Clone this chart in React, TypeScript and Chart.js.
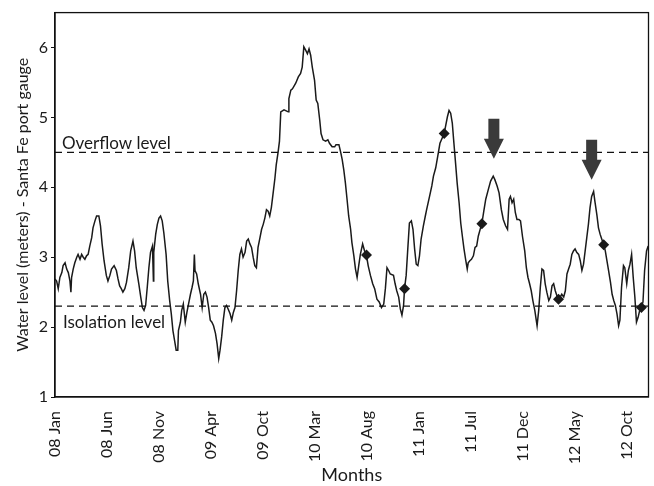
import React, { useEffect, useRef } from "react";
import { Chart, registerables } from "chart.js";
Chart.register(...registerables);

// Day offsets from 1 Jan 2008
const days = [
  0,5,10,15,21,25,31,36,41,46,
  49,51,56,61,67,71,77,82,87,92,
  97,102,107,113,117,123,128,135,140,145,
  151,158,163,169,174,182,189,194,199,204,
  209,215,220,227,233,240,245,250,258,264,
  269,274,279,284,289,294,300,303,304,310,
  315,320,325,330,335,342,347,353,358,363,
  368,373,378,380,386,390,395,401,406,411,
  417,422,426,429,431,436,441,448,453,458,
  463,468,473,478,483,488,494,499,504,508,
  513,518,523,528,533,539,544,549,554,559,
  564,569,574,579,585,590,595,600,605,610,
  615,620,625,631,636,641,646,651,656,661,
  666,671,677,681,687,691,695,705,718,720,
  726,731,741,749,756,761,766,772,777,782,
  787,792,799,804,809,815,819,825,833,840,
  845,853,861,865,874,879,884,889,894,899,
  904,910,914,920,925,930,935,940,947,953,
  959,964,971,978,984,991,998,1005,1012,1017,
  1022,1027,1032,1042,1047,1052,1058,1063,1068,1073,
  1076,1081,1086,1091,1097,1102,1107,1112,1117,1122,
  1127,1134,1140,1144,1153,1160,1165,1172,1178,1185,
  1198,1203,1208,1213,1218,1223,1228,1233,1238,1244,
  1249,1254,1259,1264,1269,1272,1277,1282,1288,1293,
  1298,1303,1310,1314,1320,1326,1334,1341,1349,1354,
  1361,1367,1374,1380,1387,1393,1398,1402,1407,1412,
  1417,1422,1428,1433,1439,1446,1451,1456,1461,1466,
  1471,1477,1484,1489,1494,1499,1504,1509,1514,1520,
  1525,1530,1535,1540,1545,1550,1555,1560,1566,1571,
  1576,1581,1586,1591,1596,1601,1606,1612,1617,1622,
  1627,1632,1637,1642,1647,1652,1658,1662,1668,1673,
  1678,1683,1689,1694,1699,1704,1710,1715,1720,1725,
  1730,1735,1739,1744,1750,1754,1760,1765,1770,1775,
  1780,1785,1790,1795,1800,1805,1810,1815,1821,1826,
];

// Water level (m)
const levels = [
  2.69,2.66,2.55,2.71,2.78,2.88,2.92,2.83,2.78,2.66,
  2.50,2.71,2.83,2.92,3.00,3.04,2.97,3.04,3.00,2.97,
  3.02,3.04,3.16,3.28,3.42,3.52,3.59,3.59,3.45,3.19,
  2.95,2.74,2.66,2.74,2.83,2.88,2.81,2.69,2.59,2.55,
  2.50,2.55,2.64,2.85,3.09,3.23,3.09,2.85,2.62,2.43,
  2.28,2.24,2.31,2.57,2.85,3.07,3.16,2.66,3.07,3.33,
  3.47,3.56,3.59,3.52,3.35,3.04,2.66,2.38,2.19,1.95,
  1.81,1.67,1.67,1.95,2.07,2.24,2.33,2.07,2.21,2.33,
  2.47,2.57,2.66,3.04,2.81,2.76,2.62,2.47,2.28,2.47,
  2.50,2.43,2.28,2.10,2.07,2.02,1.91,1.76,1.55,1.67,
  1.86,2.10,2.28,2.31,2.26,2.19,2.10,2.21,2.28,2.52,
  2.81,3.04,3.12,3.00,3.07,3.23,3.26,3.19,3.14,3.00,
  2.88,2.85,3.14,3.28,3.40,3.47,3.56,3.68,3.66,3.59,
  3.71,3.90,4.13,4.32,4.51,4.66,5.08,5.11,5.08,5.27,
  5.39,5.41,5.49,5.58,5.63,5.72,6.01,5.96,5.91,5.98,
  5.89,5.72,5.53,5.25,5.20,4.96,4.77,4.68,4.66,4.68,
  4.63,4.58,4.58,4.61,4.61,4.51,4.40,4.25,4.06,3.83,
  3.59,3.40,3.21,3.02,2.83,2.71,2.88,3.04,3.19,3.09,
  3.02,2.88,2.74,2.62,2.55,2.40,2.36,2.28,2.33,2.55,
  2.85,2.81,2.76,2.74,2.62,2.52,2.43,2.26,2.17,2.31,
  2.55,2.74,3.12,3.49,3.52,3.40,3.12,2.90,2.88,3.02,
  3.26,3.45,3.59,3.68,3.87,4.02,4.16,4.28,4.44,4.63,
  4.77,4.89,5.01,5.10,5.06,4.92,4.63,4.35,4.06,3.78,
  3.49,3.30,3.12,2.97,2.83,2.92,2.95,2.97,3.02,3.14,
  3.16,3.30,3.42,3.48,3.66,3.83,3.97,4.09,4.16,4.11,
  4.02,3.92,3.68,3.54,3.45,3.40,3.83,3.87,3.78,3.83,
  3.64,3.54,3.54,3.52,3.30,3.09,2.85,2.71,2.62,2.52,
  2.38,2.24,2.02,2.24,2.57,2.83,2.81,2.62,2.50,2.38,
  2.43,2.59,2.62,2.52,2.45,2.40,2.43,2.47,2.43,2.52,
  2.76,2.83,2.90,3.04,3.09,3.12,3.07,3.04,2.95,2.81,
  2.90,3.09,3.28,3.47,3.71,3.87,3.94,3.80,3.61,3.42,
  3.33,3.26,3.18,3.09,2.95,2.81,2.64,2.47,2.38,2.31,
  2.19,2.02,2.10,2.57,2.88,2.85,2.62,2.81,2.90,3.04,
  2.71,2.43,2.07,2.14,2.24,2.28,2.36,2.81,3.09,3.16,
];

const markerDays = [959, 1076, 1198, 1314, 1550, 1689, 1805];
const markerLevels = [3.03, 2.55, 4.77, 3.48, 2.40, 3.18, 2.28];

const arrowDays = [1351, 1652];
const arrowLevels = [4.41, 4.11];

const overflowLevel = 4.5;
const isolationLevel = 2.3;
const overflowLabel = "Overflow level";
const isolationLabel = "Isolation level";

const xTickDays = [0, 160, 320, 480, 640, 800, 960, 1120, 1280, 1440, 1600, 1760];
const xTickLabels = ["08 Jan", "08 Jun", "08 Nov", "09 Apr", "09 Oct", "10 Mar", "10 Aug", "11 Jan", "11 Jul", "11 Dec", "12 May", "12 Oct"];
const yTicks = [1, 2, 3, 4, 5, 6];
const xMin = 0;
const xMax = 1827;
const yMin = 1;
const yMax = 6.5;

const xTitle = "Months";
const yTitle = "Water level (meters) - Santa Fe port gauge";

const FONT = "Lato, 'Open Sans', sans-serif";
const TEXT = "#1a1a1a";

const decorPlugin = {
  id: "decor",
  afterDatasetsDraw(chart: any) {
    const { ctx, chartArea: a, scales } = chart;
    const x = scales.x;
    const y = scales.y;
    ctx.save();
    ctx.fillStyle = TEXT;
    ctx.font = `17px ${FONT}`;
    ctx.textAlign = "left";
    ctx.textBaseline = "alphabetic";
    ctx.fillText(overflowLabel, a.left + 7, y.getPixelForValue(overflowLevel) - 3);
    ctx.fillText(isolationLabel, a.left + 8, y.getPixelForValue(isolationLevel) + 22);

    ctx.fillStyle = "#3a3a3a";
    arrowDays.forEach((d, i) => {
      const tx = x.getPixelForValue(d);
      const ty = y.getPixelForValue(arrowLevels[i]);
      ctx.beginPath();
      ctx.moveTo(tx, ty);
      ctx.lineTo(tx - 10, ty - 20);
      ctx.lineTo(tx - 5.5, ty - 20);
      ctx.lineTo(tx - 5.5, ty - 40);
      ctx.lineTo(tx + 5.5, ty - 40);
      ctx.lineTo(tx + 5.5, ty - 20);
      ctx.lineTo(tx + 10, ty - 20);
      ctx.closePath();
      ctx.fill();
    });

    ctx.strokeStyle = "#111";
    ctx.lineWidth = 1.3;
    ctx.strokeRect(a.left, a.top, a.right - a.left, a.bottom - a.top);
    ctx.restore();
  },
};

export default function App() {
  const ref = useRef<HTMLCanvasElement | null>(null);

  useEffect(() => {
    if (!ref.current) return;
    const lineData = days.map((d, i) => ({ x: d, y: levels[i] }));
    const markerData = markerDays.map((d, i) => ({ x: d, y: markerLevels[i] }));
    const chart = new Chart(ref.current, {
      type: "line",
      data: {
        datasets: [
          {
            data: [{ x: xMin, y: overflowLevel }, { x: xMax, y: overflowLevel }],
            borderColor: "#111",
            borderWidth: 1.3,
            borderDash: [7, 5],
            pointRadius: 0,
          },
          {
            data: [{ x: xMin, y: isolationLevel }, { x: xMax, y: isolationLevel }],
            borderColor: "#111",
            borderWidth: 1.3,
            borderDash: [7, 5],
            pointRadius: 0,
          },
          {
            data: lineData,
            borderColor: "#1a1a1a",
            borderWidth: 1.5,
            pointRadius: 0,
            tension: 0,
          },
          {
            data: markerData,
            showLine: false,
            pointStyle: "rectRot",
            pointRadius: 5.5,
            pointBackgroundColor: "#1a1a1a",
            pointBorderColor: "#1a1a1a",
            borderWidth: 0,
          },
        ],
      },
      options: {
        animation: false,
        responsive: false,
        devicePixelRatio: 1,
        layout: { padding: { top: 10, right: 3, left: 0, bottom: 0 } },
        plugins: { legend: { display: false }, tooltip: { enabled: false } },
        scales: {
          x: {
            type: "linear",
            min: xMin,
            max: xMax,
            afterBuildTicks: (s: any) => {
              s.ticks = xTickDays.map((v) => ({ value: v }));
            },
            afterFit: (s: any) => {
              s.height = 89;
            },
            grid: { display: false },
            border: { display: true, color: "#111", width: 1.3 },
            ticks: {
              autoSkip: false,
              maxRotation: 90,
              minRotation: 90,
              padding: 6,
              color: TEXT,
              font: { family: FONT, size: 16 },
              callback: (_v: any, i: number) => xTickLabels[i],
            },
            title: {
              display: true,
              text: xTitle,
              color: TEXT,
              font: { family: FONT, size: 18 },
              padding: { top: 0, bottom: 0 },
            },
          },
          y: {
            type: "linear",
            min: yMin,
            max: yMax,
            afterBuildTicks: (s: any) => {
              s.ticks = yTicks.map((v) => ({ value: v }));
            },
            afterFit: (s: any) => {
              s.width = 55;
            },
            grid: { display: true, drawOnChartArea: false, drawTicks: true, tickLength: 4, color: "#111" },
            border: { display: true, color: "#111", width: 1.3 },
            ticks: {
              padding: 3,
              color: TEXT,
              font: { family: FONT, size: 16 },
            },
            title: {
              display: true,
              text: yTitle,
              color: TEXT,
              font: { family: FONT, size: 16 },
              padding: { top: 13, bottom: 0 },
            },
          },
        },
      },
      plugins: [decorPlugin],
    });
    return () => chart.destroy();
  }, []);

  return (
    <div style={{ position: "absolute", left: 0, top: 0, width: 654, height: 486, background: "#fff" }}>
      <canvas ref={ref} width={654} height={486} />
    </div>
  );
}
